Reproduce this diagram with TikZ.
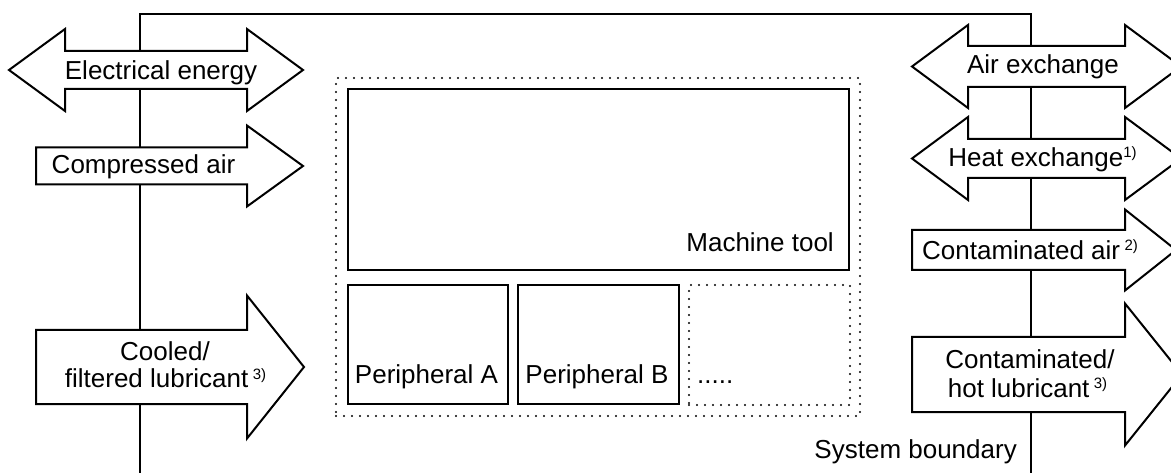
\documentclass[tikz,border=0pt]{standalone}
\usepackage{fontspec}
\setmainfont{Liberation Sans}
\begin{document}
\begin{tikzpicture}[x=1pt,y=-1pt,
  bline/.style={line width=2pt,line join=miter},
  arr/.style={line width=2pt,fill=white,line join=miter},
  box/.style={draw,line width=2.3pt,inner sep=0pt},
  dotbox/.style={draw,line width=2.2pt,dash pattern=on 0pt off 8pt,line cap=round,inner sep=0pt},
  lbl/.style={inner sep=0pt,anchor=base,font=\fontsize{26}{28}\selectfont,align=center},
]
\newcommand\supr[1]{{\fontsize{15}{15}\selectfont\raisebox{9pt}{#1}}}
\newcommand\rarr[6]{% xl xb xt yc hs hh
  \draw[arr] (#1,#4-#5) -- (#2,#4-#5) -- (#2,#4-#6) -- (#3,#4) -- (#2,#4+#6) -- (#2,#4+#5) -- (#1,#4+#5) -- cycle;}
\newcommand\darr[7]{% tl bl br tr yc hs hh
  \draw[arr] (#1,#5) -- (#2,#5-#7) -- (#2,#5-#6) -- (#3,#5-#6) -- (#3,#5-#7) -- (#4,#5) -- (#3,#5+#7) -- (#3,#5+#6) -- (#2,#5+#6) -- (#2,#5+#7) -- cycle;}
\clip (0,0) rectangle (1171,473);
\fill[white] (0,0) rectangle (1171,473);
% system boundary
\coordinate (bl) at (140,480);
\coordinate (tl) at (140,14);
\coordinate (tr) at (1031,14);
\coordinate (br) at (1031,480);
\draw[bline] (bl) -- (tl) -- (tr) -- (br);
% left arrows
\darr{9}{65}{247}{303}{70}{19}{41}
\rarr{36}{247}{303}{166}{18.5}{40.5}
\rarr{36}{247}{304}{367}{37}{71.5}
% right arrows
\darr{912}{968}{1125}{1181}{66.5}{20.5}{41.5}
\darr{912}{968}{1125}{1181}{158.5}{19.5}{41.5}
\rarr{912}{1125}{1176}{250}{20}{40.5}
\rarr{912}{1125}{1182}{374.5}{37.5}{71}
% labels on arrows
\node[lbl] (ee) at (161,80) {Electrical energy};
\node[lbl] (ca) at (143.5,174) {Compressed air};
\node[lbl] (cl1) at (165,360) {Cooled/};
\node[lbl] (cl2) at (165.5,388) {filtered lubricant\,\supr{3)}};
\node[lbl] (ae) at (1043,74) {Air exchange};
\node[lbl] (he) at (1042.5,167) {Heat exchange\supr{1)}};
\node[lbl] (cai) at (1030,260) {Contaminated air\,\supr{2)}};
\node[lbl] (hl1) at (1030,368) {Contaminated/};
\node[lbl] (hl2) at (1027.5,397) {hot lubricant\,\supr{3)}};
% machine system
\node[dotbox,minimum width=524pt,minimum height=338pt] (sys) at (598,247) {};
\node[box,minimum width=501pt,minimum height=181pt] (mt) at (598.5,179.5) {};
\node[box,minimum width=160pt,minimum height=119pt] (pa) at (428,344.5) {};
\node[box,minimum width=161pt,minimum height=119pt] (pb) at (598.5,344.5) {};
\node[dotbox,minimum width=161pt,minimum height=120pt] (pc) at (769.5,345) {};
\node[lbl,anchor=base east] (mtl) at (834,252) {Machine tool};
\node[lbl] (pal) at (426.5,383) {Peripheral A};
\node[lbl] (pbl) at (597,383) {Peripheral B};
\node[lbl,anchor=base west] (pcl) at (697,383) {.....};
\node[lbl,anchor=base east] (sb) at (1017,458) {System boundary};
\end{tikzpicture}
\end{document}
